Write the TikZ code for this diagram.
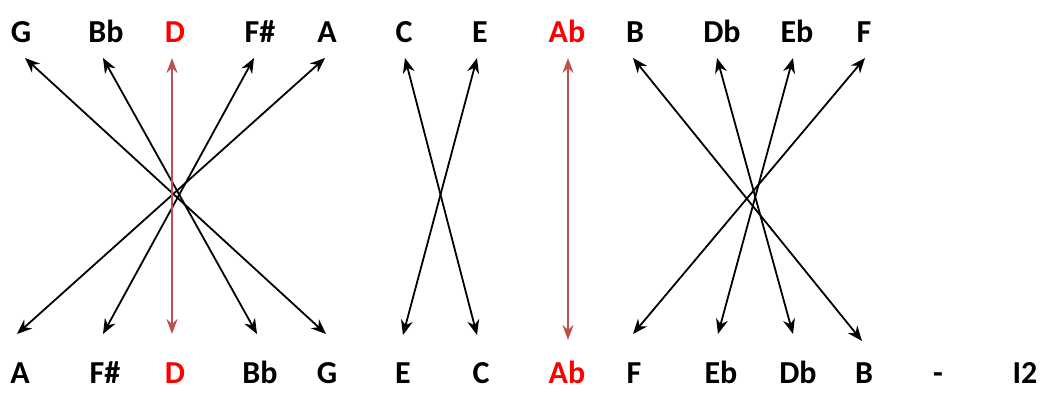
\documentclass[tikz,border=0pt]{standalone}
\usepackage{fontspec}
\setmainfont{Carlito}
\usetikzlibrary{arrows.meta}
\definecolor{arrred}{RGB}{192,80,77}
\tikzset{
  lbl/.style={anchor=base,inner sep=0pt,font=\fontsize{32}{34}\selectfont\bfseries},
  redlbl/.style={lbl,text=red},
  arr/.style={line width=1.8pt,{Stealth[length=15pt,width=12pt]}-{Stealth[length=15pt,width=12pt]}},
  redarr/.style={line width=1.5pt,draw=arrred,{Stealth[length=15pt,width=11pt]}-{Stealth[length=15pt,width=11pt]}}
}
\begin{document}
\begin{tikzpicture}[x=1pt,y=-1pt]
\useasboundingbox (0,0) rectangle (1044,398);
% top labels
\node[lbl] (tG) at (21,43) {G};
\node[lbl] (tBb) at (106,43) {Bb};
\node[redlbl] (tD) at (175,43) {D};
\node[lbl] (tFs) at (260,43) {F\#};
\node[lbl] (tA) at (327,43) {A};
\node[lbl] (tC) at (404,43) {C};
\node[lbl] (tE) at (480,43) {E};
\node[redlbl] (tAb) at (567,43) {Ab};
\node[lbl] (tB) at (635,43) {B};
\node[lbl] (tDb) at (722,43) {Db};
\node[lbl] (tEb) at (797,43) {Eb};
\node[lbl] (tF) at (864,43) {F};
% bottom labels
\node[lbl] (bA) at (20,383) {A};
\node[lbl] (bFs) at (105,383) {F\#};
\node[redlbl] (bD) at (175,383) {D};
\node[lbl] (bBb) at (260,383) {Bb};
\node[lbl] (bG) at (327,383) {G};
\node[lbl] (bE) at (403,383) {E};
\node[lbl] (bC) at (481,383) {C};
\node[redlbl] (bAb) at (567,383) {Ab};
\node[lbl] (bF) at (634,383) {F};
\node[lbl] (bEb) at (721,383) {Eb};
\node[lbl] (bDb) at (798,383) {Db};
\node[lbl] (bB) at (864,383) {B};
\node[lbl] (dash) at (938,383) {-};
\node[lbl] (I2) at (1025,383) {I2};
% arrow end points
\coordinate (pG1) at (25,58);   \coordinate (pG2) at (326,334);
\coordinate (pBb1) at (103,58); \coordinate (pBb2) at (257,334);
\coordinate (pD1) at (172,58);  \coordinate (pD2) at (172,334);
\coordinate (pFs1) at (254,58); \coordinate (pFs2) at (103,334);
\coordinate (pA1) at (325,58);  \coordinate (pA2) at (17,334);
\coordinate (pC1) at (405,58);  \coordinate (pC2) at (477,335);
\coordinate (pE1) at (477,58);  \coordinate (pE2) at (403,335);
\coordinate (pAb1) at (568,58); \coordinate (pAb2) at (568,340);
\coordinate (pB1) at (633,58);  \coordinate (pB2) at (862,341);
\coordinate (pDb1) at (717,58); \coordinate (pDb2) at (793,334);
\coordinate (pEb1) at (793,58); \coordinate (pEb2) at (718,334);
\coordinate (pF1) at (865,58);  \coordinate (pF2) at (633,334);
% arrows
\draw[arr] (pG1) -- (pG2);
\draw[arr] (pBb1) -- (pBb2);
\draw[arr] (pFs1) -- (pFs2);
\draw[arr] (pA1) -- (pA2);
\draw[redarr] (pD1) -- (pD2);
\draw[arr] (pC1) -- (pC2);
\draw[arr] (pE1) -- (pE2);
\draw[redarr] (pAb1) -- (pAb2);
\draw[arr] (pB1) -- (pB2);
\draw[arr] (pDb1) -- (pDb2);
\draw[arr] (pEb1) -- (pEb2);
\draw[arr] (pF1) -- (pF2);
\end{tikzpicture}
\end{document}
